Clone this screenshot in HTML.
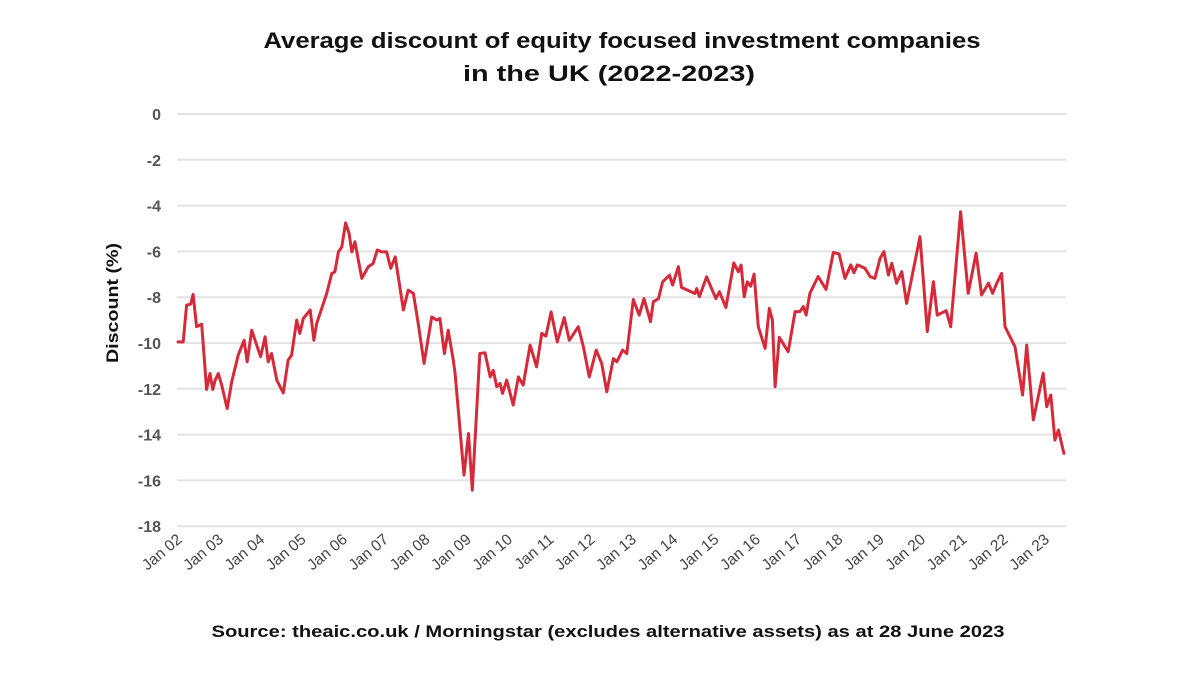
<!DOCTYPE html>
<html><head><meta charset="utf-8"><style>
body{margin:0;background:#fff;}
svg text{font-family:"Liberation Sans",sans-serif;}
</style></head><body>
<svg width="1200" height="675" viewBox="0 0 1200 675">
<text x="622" y="48" text-anchor="middle" font-size="22" font-weight="bold" fill="#111" textLength="717" lengthAdjust="spacingAndGlyphs">Average discount of equity focused investment companies</text>
<text x="609" y="81" text-anchor="middle" font-size="22" font-weight="bold" fill="#111" textLength="292" lengthAdjust="spacingAndGlyphs">in the UK (2022-2023)</text>
<text transform="translate(118,303) rotate(-90)" text-anchor="middle" font-size="17" font-weight="bold" fill="#111" textLength="120" lengthAdjust="spacingAndGlyphs">Discount (%)</text>
<text x="608" y="637" text-anchor="middle" font-size="17" font-weight="bold" fill="#111" textLength="793" lengthAdjust="spacingAndGlyphs">Source: theaic.co.uk / Morningstar (excludes alternative assets) as at 28 June 2023</text>
<g id="grid"></g><g id="yt"></g><g id="xt"></g><g id="plot"></g>
</svg>
<script>
const yTicks=[0,-2,-4,-6,-8,-10,-12,-14,-16,-18];
const xTickLabels=["Jan 02","Jan 03","Jan 04","Jan 05","Jan 06","Jan 07","Jan 08","Jan 09","Jan 10","Jan 11","Jan 12","Jan 13","Jan 14","Jan 15","Jan 16","Jan 17","Jan 18","Jan 19","Jan 20","Jan 21","Jan 22","Jan 23"];
// months since Jan 2002
const months=[0,1.5,2.5,3.7,4.4,5.4,6.9,8.3,9.3,10.1,10.8,11.7,12.7,14.3,15.6,17.5,19.2,20.1,21.4,22.4,24.0,25.3,26.2,27.2,28.7,30.6,32.0,33.0,34.5,35.4,36.4,38.4,39.5,40.3,43.2,44.7,45.6,46.6,47.6,48.7,49.7,50.5,51.4,53.4,55.3,56.7,57.9,59.2,60.6,61.8,63.1,65.5,66.9,68.4,69.8,71.5,73.7,75.2,76.1,77.4,78.5,80.0,
80.5,83.1,84.4,85.5,87.7,89.2,90.7,91.6,92.6,93.6,94.3,95.5,97.4,98.9,100.3,102.3,104.2,105.7,106.9,108.4,110.2,112.2,113.7,116.3,117.8,119.5,121.5,123.1,124.6,126.5,127.5,129.2,130.4,132.3,134.0,135.4,137.3,138.1,139.6,140.8,142.8,143.7,145.4,146.3,150.2,150.7,151.5,153.6,156.3,157.3,159.2,161.5,162.8,163.6,164.5,165.4,166.4,167.4,
168.6,170.6,171.8,172.7,173.5,174.7,177.3,179.3,180.7,181.7,182.5,183.6,186.0,188.3,190.4,192.1,193.8,195.5,196.4,197.4,199.6,201.1,202.5,204.0,205.1,206.4,207.4,208.8,210.3,211.7,215.6,217.7,219.5,220.6,223.2,224.5,227.4,229.6,231.9,233.5,235.5,236.7,237.9,239.3,240.3,243.2,245.4,246.6,248.5,251.4,252.4,253.6,254.8,255.8,257.4];
const discount=[-9.95,-9.95,-8.35,-8.30,-7.88,-9.29,-9.18,-12.03,-11.33,-12.03,-11.62,-11.33,-11.84,-12.86,-11.7,-10.53,-9.88,-10.82,-9.44,-9.88,-10.6,-9.73,-10.82,-10.46,-11.62,-12.18,-10.75,-10.53,-9.0,-9.58,-8.93,-8.56,-9.88,-9.15,-7.84,-6.96,-6.89,-6.02,-5.8,-4.75,-5.22,-6.02,-5.58,-7.18,-6.67,-6.53,-5.94,-6.02,-6.02,-6.74,-6.24,-8.56,-7.69,-7.84,-9.15,-10.89,-8.86,-9.0,-8.93,-10.46,-9.44,-10.75,
-11.33,-15.77,-13.95,-16.43,-10.46,-10.43,-11.48,-11.19,-11.91,-11.77,-12.2,-11.62,-12.71,-11.48,-11.84,-10.09,-11.04,-9.58,-9.7,-8.64,-9.95,-8.89,-9.88,-9.29,-10.17,-11.48,-10.31,-10.89,-12.13,-10.68,-10.82,-10.31,-10.46,-8.1,-8.78,-8.06,-9.07,-8.2,-8.06,-7.33,-7.04,-7.47,-6.67,-7.57,-7.84,-7.62,-7.98,-7.11,-8.06,-7.76,-8.45,-6.5,-6.89,-6.6,-7.98,-7.33,-7.52,-6.99,
-9.29,-10.23,-8.49,-9.0,-11.91,-9.75,-10.38,-8.63,-8.63,-8.41,-8.78,-7.83,-7.1,-7.66,-6.05,-6.11,-7.18,-6.59,-6.93,-6.59,-6.74,-7.1,-7.18,-6.3,-6.01,-7.03,-6.52,-7.39,-6.88,-8.27,-5.36,-9.5,-7.32,-8.78,-8.59,-9.29,-4.27,-7.83,-6.08,-7.9,-7.39,-7.83,-7.39,-6.96,-9.29,-10.16,-12.27,-10.09,-13.36,-11.32,-12.78,-12.27,-14.24,-13.8,-14.82];
const NS="http://www.w3.org/2000/svg";
const X0=178,PX_PER_MONTH=41.3/12,Y0=114,PX_PER_UNIT=22.9;
function xs(m){return X0+m*PX_PER_MONTH;}
function ys(v){return Y0-v*PX_PER_UNIT;}
function mk(t,a){const e=document.createElementNS(NS,t);for(const k in a)e.setAttribute(k,a[k]);return e;}
const grid=document.getElementById('grid'),yt=document.getElementById('yt'),xt=document.getElementById('xt'),plot=document.getElementById('plot');
yTicks.forEach(v=>{
  const l=mk('line',{x1:177,x2:1066,y1:ys(v),y2:ys(v),stroke:'#e3e3e3','stroke-width':2});
  
  
  grid.appendChild(l);
  const t=mk('text',{x:161,y:ys(v)+6,'text-anchor':'end','font-size':16,'font-weight':'bold',fill:'#555'});
  t.textContent=String(v);
  
  
  yt.appendChild(t);
});
xTickLabels.forEach((s,i)=>{
  const x=xs(i*12)+5,y=541;
  const t=mk('text',{x:x,y:y,'text-anchor':'end','font-size':15.5,fill:'#444',transform:`rotate(-40 ${x} ${y})`});
  t.textContent=s;
  
  
  xt.appendChild(t);
});
const d=months.map((m,i)=>(i?'L':'M')+xs(m).toFixed(1)+' '+ys(discount[i]).toFixed(1)).join(' ');
const p=mk('path',{d:d,fill:'none',stroke:'#d42a3a','stroke-width':3,'stroke-linejoin':'round','stroke-linecap':'round'});


plot.appendChild(p);
</script>
</body></html>
